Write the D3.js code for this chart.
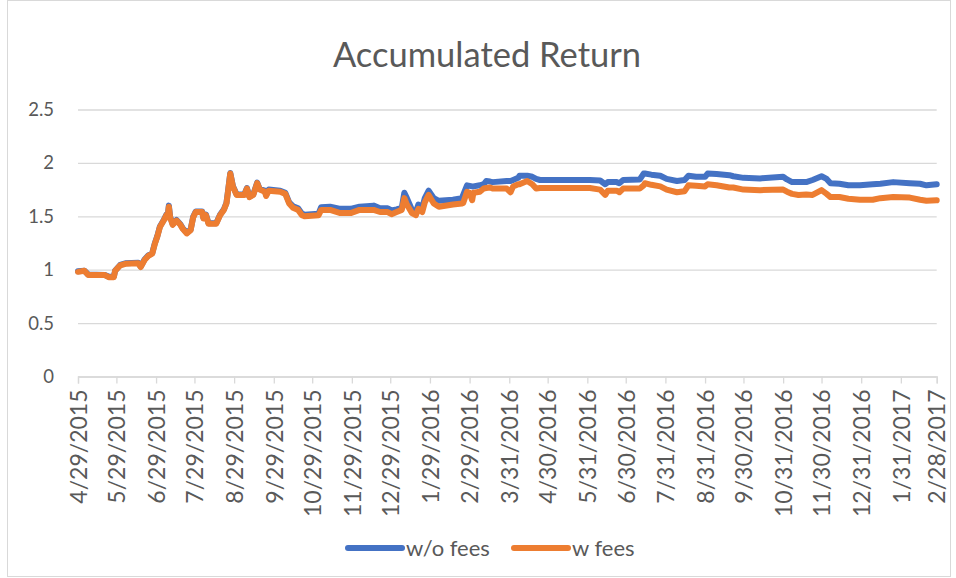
<!DOCTYPE html>
<html>
<head>
<meta charset="utf-8">
<script src="https://cdn.jsdelivr.net/npm/d3@7"></script>
<style>
  body { margin: 0; background: #fff; }
  text { font-family: Lato, "Open Sans", sans-serif; fill: #595959; }
</style>
</head>
<body>
<svg id="chart" width="956" height="578"></svg>
<script>
// x axis labels (monthly, date axis)
const tickLabels = ["4/29/2015", "5/29/2015", "6/29/2015", "7/29/2015", "8/29/2015", "9/29/2015",
  "10/29/2015", "11/29/2015", "12/29/2015", "1/29/2016", "2/29/2016", "3/31/2016", "4/30/2016",
  "5/31/2016", "6/30/2016", "7/31/2016", "8/31/2016", "9/30/2016", "10/31/2016", "11/30/2016",
  "12/31/2016", "1/31/2017", "2/28/2017"];

const yTicks = [0, 0.5, 1, 1.5, 2, 2.5];

const dates = ["2015-04-29", "2015-05-04", "2015-05-07", "2015-05-20", "2015-05-23", "2015-05-27",
  "2015-05-28", "2015-06-01", "2015-06-05", "2015-06-15", "2015-06-17", "2015-06-20", "2015-06-23",
  "2015-06-26", "2015-06-28", "2015-06-30", "2015-07-02", "2015-07-05", "2015-07-07", "2015-07-08",
  "2015-07-09", "2015-07-10", "2015-07-12", "2015-07-15", "2015-07-18", "2015-07-20", "2015-07-23",
  "2015-07-26", "2015-07-28", "2015-07-30", "2015-08-04", "2015-08-05", "2015-08-07", "2015-08-09",
  "2015-08-15", "2015-08-18", "2015-08-21", "2015-08-23", "2015-08-24", "2015-08-26", "2015-08-28",
  "2015-08-31", "2015-09-06", "2015-09-08", "2015-09-10", "2015-09-13", "2015-09-16", "2015-09-18",
  "2015-09-22", "2015-09-23", "2015-09-25", "2015-10-04", "2015-10-08", "2015-10-11", "2015-10-14",
  "2015-10-18", "2015-10-21", "2015-10-23", "2015-11-03", "2015-11-05", "2015-11-12", "2015-11-20",
  "2015-11-28", "2015-12-05", "2015-12-16", "2015-12-21", "2015-12-27", "2015-12-30", "2016-01-03",
  "2016-01-07", "2016-01-09", "2016-01-11", "2016-01-15", "2016-01-18", "2016-01-20", "2016-01-23",
  "2016-01-25", "2016-01-28", "2016-02-01", "2016-02-05", "2016-02-16", "2016-02-23", "2016-02-24",
  "2016-02-27", "2016-02-29", "2016-03-02", "2016-03-03", "2016-03-08", "2016-03-11", "2016-03-13",
  "2016-03-16", "2016-03-18", "2016-03-29", "2016-04-01", "2016-04-03", "2016-04-07", "2016-04-08",
  "2016-04-14", "2016-04-18", "2016-04-21", "2016-04-24", "2016-05-10", "2016-05-23", "2016-06-02",
  "2016-06-10", "2016-06-14", "2016-06-16", "2016-06-23", "2016-06-25", "2016-06-28", "2016-07-11",
  "2016-07-14", "2016-07-15", "2016-07-20", "2016-07-27", "2016-08-01", "2016-08-09", "2016-08-15",
  "2016-08-18", "2016-08-24", "2016-08-31", "2016-09-02", "2016-09-09", "2016-09-19", "2016-09-22",
  "2016-09-30", "2016-10-13", "2016-10-31", "2016-11-03", "2016-11-07", "2016-11-12", "2016-11-18",
  "2016-11-23", "2016-11-30", "2016-12-04", "2016-12-07", "2016-12-14", "2016-12-21", "2016-12-30",
  "2017-01-09", "2017-01-15", "2017-01-25", "2017-02-07", "2017-02-15", "2017-02-20", "2017-02-28"];

const woFees = [0.985, 0.99, 0.955, 0.95, 0.935, 0.935,
  0.99, 1.045, 1.06, 1.065, 1.03, 1.095, 1.135,
  1.155, 1.245, 1.315, 1.405, 1.465, 1.515, 1.495,
  1.60, 1.495, 1.425, 1.465, 1.425, 1.385, 1.345,
  1.375, 1.495, 1.545, 1.545, 1.485, 1.515, 1.435,
  1.435, 1.515, 1.565, 1.625, 1.715, 1.905, 1.785,
  1.705, 1.705, 1.765, 1.685, 1.705, 1.815, 1.755,
  1.74, 1.70, 1.75, 1.74, 1.72, 1.63, 1.595,
  1.575, 1.525, 1.515, 1.525, 1.585, 1.59, 1.57,
  1.57, 1.59, 1.60, 1.575, 1.575, 1.555, 1.565,
  1.58, 1.72, 1.67, 1.56, 1.54, 1.61, 1.58,
  1.67, 1.74, 1.67, 1.645, 1.655, 1.67, 1.70,
  1.79, 1.785, 1.78, 1.78, 1.79, 1.80, 1.83,
  1.825, 1.82, 1.83, 1.83, 1.84, 1.86, 1.88,
  1.88, 1.87, 1.85, 1.84, 1.84, 1.84, 1.84,
  1.835, 1.80, 1.82, 1.82, 1.81, 1.84, 1.845,
  1.90, 1.90, 1.89, 1.88, 1.85, 1.83, 1.84,
  1.88, 1.87, 1.87, 1.90, 1.895, 1.885, 1.875,
  1.86, 1.855, 1.87, 1.845, 1.82, 1.82, 1.82,
  1.84, 1.875, 1.85, 1.81, 1.805, 1.79, 1.79,
  1.80, 1.805, 1.82, 1.81, 1.805, 1.79, 1.80];

const wFees = [0.98, 0.99, 0.95, 0.95, 0.93, 0.93,
  0.99, 1.04, 1.055, 1.06, 1.025, 1.09, 1.13,
  1.15, 1.24, 1.31, 1.40, 1.46, 1.51, 1.49,
  1.59, 1.49, 1.42, 1.46, 1.42, 1.38, 1.34,
  1.37, 1.49, 1.54, 1.54, 1.48, 1.51, 1.43,
  1.43, 1.51, 1.56, 1.62, 1.71, 1.90, 1.78,
  1.70, 1.70, 1.76, 1.68, 1.70, 1.81, 1.75,
  1.73, 1.69, 1.74, 1.73, 1.71, 1.62, 1.58,
  1.56, 1.51, 1.50, 1.51, 1.56, 1.56, 1.53,
  1.53, 1.56, 1.56, 1.54, 1.54, 1.52, 1.54,
  1.56, 1.67, 1.61, 1.53, 1.51, 1.57, 1.54,
  1.63, 1.70, 1.62, 1.59, 1.61, 1.62, 1.625,
  1.73, 1.72, 1.65, 1.72, 1.73, 1.76, 1.765,
  1.77, 1.76, 1.76, 1.725, 1.78, 1.80, 1.80,
  1.83, 1.80, 1.76, 1.765, 1.765, 1.765, 1.765,
  1.75, 1.70, 1.74, 1.74, 1.725, 1.76, 1.76,
  1.79, 1.81, 1.795, 1.78, 1.75, 1.725, 1.735,
  1.79, 1.785, 1.78, 1.80, 1.79, 1.77, 1.77,
  1.75, 1.745, 1.75, 1.73, 1.71, 1.70, 1.705,
  1.70, 1.745, 1.71, 1.68, 1.68, 1.665, 1.655,
  1.655, 1.67, 1.68, 1.675, 1.655, 1.645, 1.65];

const seriesNames = ["w/o fees", "w fees"];
const colors = ["#4472C4", "#ED7D31"];

const parseDate = d3.timeParse("%Y-%m-%d");
const parseTick = d3.timeParse("%m/%d/%Y");

const svg = d3.select("#chart");
const margin = { top: 109.5, right: 19.3, bottom: 201.5, left: 78 };
const width = +svg.attr("width") - margin.left - margin.right;
const height = +svg.attr("height") - margin.top - margin.bottom;

// chart border
svg.append("rect")
  .attr("x", 7.5).attr("y", 0.5)
  .attr("width", 943).attr("height", 576)
  .attr("fill", "#fff")
  .attr("stroke", "#d9d9d9");

svg.append("text")
  .attr("x", 487)
  .attr("y", 67)
  .attr("text-anchor", "middle")
  .style("font-size", "34.5px")
  .text("Accumulated Return");

const tickDates = tickLabels.map(parseTick);
const x = d3.scaleTime().domain([tickDates[0], tickDates[tickDates.length - 1]]).range([0, width]);
const y = d3.scaleLinear().domain([0, 2.5]).range([height, 0]);

const g = svg.append("g")
  .attr("transform", `translate(${margin.left},${margin.top})`);

// gridlines
g.append("g")
  .attr("class", "grid")
  .call(d3.axisLeft(y).tickValues(yTicks).tickSize(-width).tickFormat(""))
  .call(function (s) { s.select(".domain").remove(); })
  .selectAll("line")
  .attr("stroke", "#d9d9d9")
  .attr("stroke-width", 1.3);

// y labels
g.append("g")
  .attr("class", "axis axis--y")
  .call(d3.axisLeft(y).tickValues(yTicks).tickSize(0).tickPadding(24).tickFormat(d3.format("")))
  .call(function (s) { s.select(".domain").remove(); })
  .selectAll("text")
  .style("font-size", "18.5px")
  .attr("fill", "#595959");

// x axis
const xAxis = g.append("g")
  .attr("class", "axis axis--x")
  .attr("transform", `translate(0,${height})`)
  .call(d3.axisBottom(x).tickValues(tickDates).tickSizeOuter(0).tickSize(7)
    .tickFormat(function (d, i) { return tickLabels[i]; }));
xAxis.select(".domain").attr("stroke", "#d9d9d9").attr("stroke-width", 1.3);
xAxis.selectAll("line").attr("stroke", "#d9d9d9").attr("stroke-width", 1.3);
xAxis.selectAll("text")
  .attr("transform", "rotate(-90)")
  .attr("x", -13)
  .attr("y", 0)
  .attr("dy", "0.36em")
  .attr("text-anchor", "end")
  .attr("fill", "#595959")
  .style("font-size", "23px");

const line = d3.line()
  .x(function (d) { return x(d.date); })
  .y(function (d) { return y(d.value); });

[woFees, wFees].forEach(function (vals, k) {
  const pts = dates.map(function (s, i) { return { date: parseDate(s), value: vals[i] }; });
  g.append("path")
    .datum(pts)
    .attr("fill", "none")
    .attr("stroke", colors[k])
    .attr("stroke-width", 6)
    .attr("stroke-linejoin", "round")
    .attr("stroke-linecap", "round")
    .attr("d", line);
});

// legend
const legendX = [348, 514];
const legend = svg.append("g").attr("class", "legend");
seriesNames.forEach(function (name, k) {
  legend.append("line")
    .attr("x1", legendX[k]).attr("x2", legendX[k] + 54)
    .attr("y1", 548).attr("y2", 548)
    .attr("stroke", colors[k])
    .attr("stroke-width", 6)
    .attr("stroke-linecap", "round");
  legend.append("text")
    .attr("x", legendX[k] + 58)
    .attr("y", 548)
    .attr("dy", "0.35em")
    .style("font-size", "22px")
    .text(name);
});
</script>
</body>
</html>
